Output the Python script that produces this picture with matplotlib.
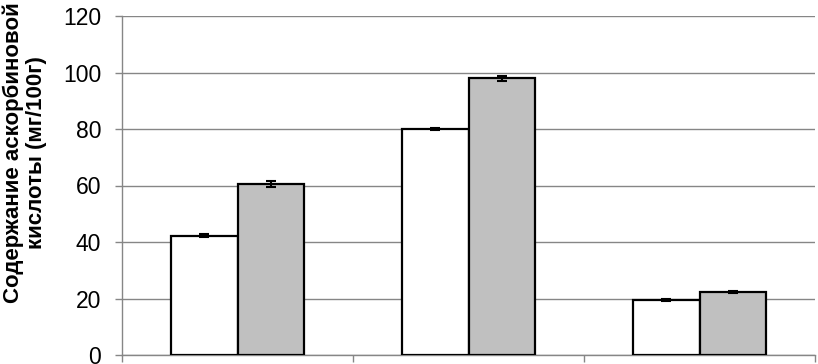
import matplotlib
matplotlib.use("Agg")
import matplotlib.pyplot as plt
import numpy as np

plt.rcParams['font.family'] = ['Liberation Sans', 'DejaVu Sans']

groups = ["1", "2", "3"]
white_vals = [42.2, 80.0, 19.4]
white_err = [0.5, 0.5, 0.3]
gray_vals = [60.5, 97.9, 22.3]
gray_err = [1.2, 0.8, 0.3]
yticks = [0, 20, 40, 60, 80, 100, 120]
ylabel = "Содержание аскорбиновой\nкислоты (мг/100г)"

fig = plt.figure(figsize=(8.18, 3.64), dpi=100)
ax = fig.add_axes([122/818, 9/364, (815-122)/818, (355-16)/364])

x = np.arange(len(groups))
w = 0.287
ax.bar(x - w/2, white_vals, w, color='white', edgecolor='black', linewidth=1.6, zorder=3)
ax.bar(x + w/2, gray_vals, w, color='#C0C0C0', edgecolor='black', linewidth=1.6, zorder=3)
ax.errorbar(x - w/2, white_vals, yerr=white_err, fmt='none', ecolor='black',
            elinewidth=1.5, capsize=3.5, capthick=1.5, zorder=4)
ax.errorbar(x + w/2, gray_vals, yerr=gray_err, fmt='none', ecolor='black',
            elinewidth=1.5, capsize=3.5, capthick=1.5, zorder=4)

ax.set_ylim(0, 120)
ax.set_xlim(-0.5, 2.5)
ax.set_yticks(yticks)
ax.set_yticklabels([str(v) for v in yticks], fontsize=16.5)
ax.set_xticks([-0.5, 0.5, 1.5, 2.5])
ax.set_xticklabels([])
ax.yaxis.grid(True, color='#868686', linewidth=1.0, zorder=0)
ax.set_axisbelow(True)
for s in ['top', 'right']:
    ax.spines[s].set_visible(False)
for s in ['left', 'bottom']:
    ax.spines[s].set_color('#868686')
    ax.spines[s].set_linewidth(1.0)
ax.tick_params(axis='both', direction='out', length=5, color='#868686', width=1.0)
ax.tick_params(axis='y', pad=10)

fig.text(25/818, 1 - 153/364, ylabel, rotation=90, ha='center', va='center',
         multialignment='center', fontsize=16, fontweight='bold', linespacing=1.1)

fig.savefig("out.png", dpi=100)
